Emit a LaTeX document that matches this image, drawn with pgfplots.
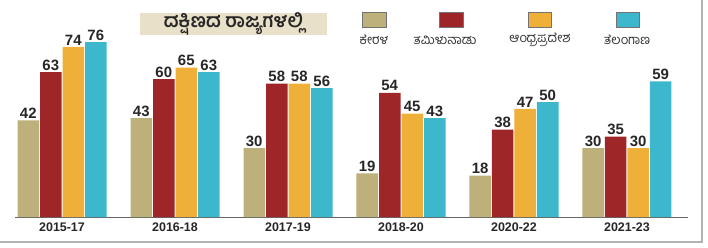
\documentclass[border=0pt]{standalone}
\usepackage{fontspec}
\setmainfont{Liberation Sans}
\newfontfamily\kn[Script=Kannada]{Hind Mysuru}
\usepackage{pgfplots}
\pgfplotsset{compat=1.18}
\definecolor{ker}{HTML}{BDB07B}
\definecolor{tn}{HTML}{9E2629}
\definecolor{ap}{HTML}{EFB03A}
\definecolor{tel}{HTML}{3DB7CB}
\definecolor{titlebg}{HTML}{E9E0C9}
\begin{document}
\begin{tikzpicture}[x=1bp,y=1bp]
\useasboundingbox (0,0) rectangle (708,247);
\begin{axis}[
  at={(15bp,30bp)}, anchor=south west,
  width=673bp, height=217bp, scale only axis,
  xmin=-0.416, xmax=5.54, ymin=0, ymax=94.35,
  ybar=1bp, bar width=21.5bp,
  axis x line*=bottom, axis y line=none,
  x axis line style={-, draw=black!60, line width=0.8bp},
  xtick={0,1,2,3,4,5},
  xticklabels={2015-17,2016-18,2017-19,2018-20,2020-22,2021-23},
  major tick length=0pt,
  xticklabel style={font=\bfseries\fontsize{12.5}{13}\selectfont, text=black!85, yshift=-2bp},
  /pgf/number format/assume math mode=true,
  nodes near coords,
  nodes near coords style={font=\bfseries\fontsize{15}{15}\selectfont, text=black!85, inner sep=1.5bp},
  every axis plot/.append style={draw=none},
]
\addplot[fill=ker] coordinates {(0,42) (1,43) (2,30) (3,19) (4,18) (5,30)};
\addplot[fill=tn] coordinates {(0,63) (1,60) (2,58) (3,54) (4,38) (5,35)};
\addplot[fill=ap] coordinates {(0,74) (1,65) (2,58) (3,45) (4,47) (5,30)};
\addplot[fill=tel] coordinates {(0,76) (1,63) (2,56) (3,43) (4,50) (5,59)};
\end{axis}
\node[fill=titlebg, minimum width=187bp, minimum height=22bp, inner sep=0pt] at (233.5,223)
  {\kn\bfseries\fontsize{19}{19}\selectfont\color{black!85}ದಕ್ಷಿಣದ ರಾಜ್ಯಗಳಲ್ಲಿ};
\fill[ker, draw=black!55, line width=0.6bp] (362,220) rectangle (386,235);
\fill[tn, draw=black!55, line width=0.6bp] (439,220) rectangle (463,235);
\fill[ap, draw=black!55, line width=0.6bp] (528,220) rectangle (551,235);
\fill[tel, draw=black!55, line width=0.6bp] (616,220) rectangle (639,235);
\node[font=\kn\fontsize{13}{13}\selectfont, text=black!80] at (374,207) {ಕೇರಳ};
\node[font=\kn\fontsize{13}{13}\selectfont, text=black!80] at (445,207) {ತಮಿಳುನಾಡು};
\node[font=\kn\fontsize{13}{13}\selectfont, text=black!80] at (540,207) {ಆಂಧ್ರಪ್ರದೇಶ};
\node[font=\kn\fontsize{13}{13}\selectfont, text=black!80] at (627,207) {ತೆಲಂಗಾಣ};
\draw[black!30, line width=1.5bp] (702,247) -- (702,5) -- (0,5);
\end{tikzpicture}
\end{document}
